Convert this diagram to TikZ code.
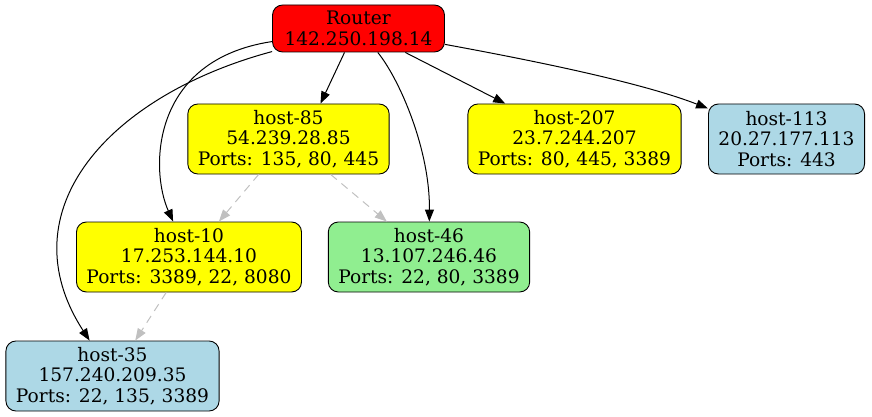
\documentclass[tikz,border=0pt]{standalone}
\usepackage{fontspec}
\setmainfont{DejaVu Serif}
\usetikzlibrary{arrows.meta,positioning}
\definecolor{lightblue}{HTML}{ADD8E6}
\definecolor{lightgreen}{HTML}{90EE90}
\definecolor{hostyellow}{RGB}{255,255,0}
\definecolor{routerred}{RGB}{255,0,0}
\definecolor{scangray}{HTML}{C0C0C0}

\begin{document}
\begin{tikzpicture}[x=1pt, y=-1pt, >={Triangle[length=12pt,width=9pt]},
  host/.style={draw, rounded corners=10pt, align=center, line width=0.9pt,
    inner xsep=10pt, inner ysep=3pt, minimum height=70pt,
    font=\fontsize{18.6}{20.5}\selectfont},
  link/.style={->, line width=1pt},
  scan/.style={->, draw=scangray, line width=1pt, dash pattern=on 8pt off 6pt}]

  \useasboundingbox (0,0) rectangle (872,417);

  % Define coordinates for nodes
  \node[host, fill=routerred, minimum height=47pt, inner xsep=12pt] (router) at (358.5, 28.5) {Router\\142.250.198.14};
  \node[host, fill=hostyellow] (h85) at (288.5, 139) {host-85\\54.239.28.85\\Ports: 135, 80, 445};
  \node[host, fill=hostyellow] (h207) at (574.5, 139) {host-207\\23.7.244.207\\Ports: 80, 445, 3389};
  \node[host, fill=lightblue] (h113) at (786.5, 139) {host-113\\20.27.177.113\\Ports: 443};
  \node[host, fill=hostyellow] (h10) at (189, 257) {host-10\\17.253.144.10\\Ports: 3389, 22, 8080};
  \node[host, fill=lightgreen] (h46) at (429, 257) {host-46\\13.107.246.46\\Ports: 22, 80, 3389};
  \node[host, fill=lightblue] (h35) at (112.5, 376) {host-35\\157.240.209.35\\Ports: 22, 135, 3389};

  % Draw arrows between nodes
  \draw[link] (router) .. controls (110, 95) and (5, 210) .. (h35);
  \draw[link] (router) .. controls (150, 60) and (150, 170) .. (h10);
  \draw[link] ([xshift=-14pt]router.south) -- ([xshift=32pt]h85.north);
  \draw[link] (router) .. controls (400, 80) and (430, 150) .. (h46);
  \draw[link] (router) -- (h207);
  \draw[link] (router) .. controls (530, 60) and (640, 82) .. (h113);
  \draw[scan] (h85) -- (h10);
  \draw[scan] (h85) -- (h46);
  \draw[scan] (h10) -- (h35);
\end{tikzpicture}
\end{document}
